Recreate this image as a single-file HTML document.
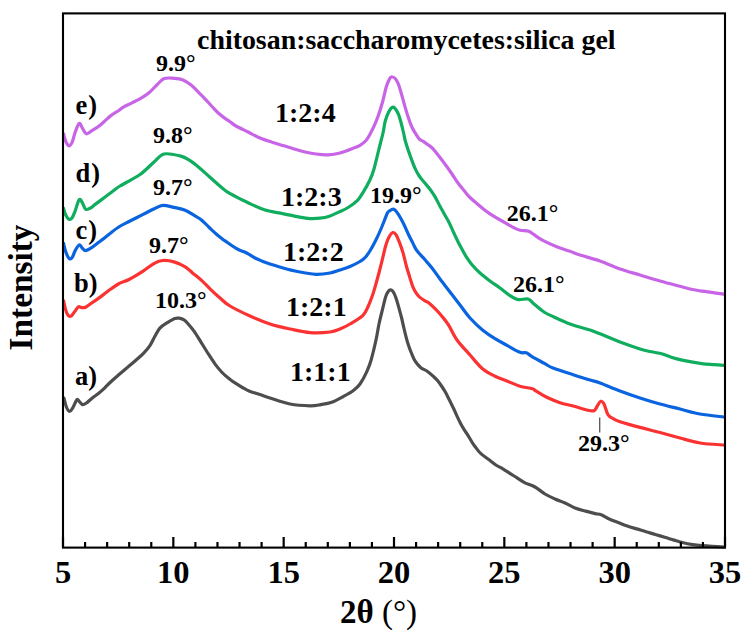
<!DOCTYPE html>
<html><head><meta charset="utf-8"><style>
html,body{margin:0;padding:0;background:#fff;}
svg{display:block;}
text{font-family:"Liberation Serif",serif;font-weight:bold;fill:#000;}
</style></head><body>
<svg width="750" height="641" viewBox="0 0 750 641">
<rect width="750" height="641" fill="#fff"/>
<g fill="none" stroke-width="3.2" stroke-linejoin="round" stroke-linecap="round">
<path stroke="#c864e6" d="M63.6 133.8 C63.9 135.0 64.7 139.0 65.6 141.0 C66.5 143.0 67.7 145.5 68.8 145.8 C69.9 146.1 70.9 144.9 72.0 142.6 C73.1 140.3 74.0 135.4 75.2 132.2 C76.4 129.0 78.0 124.1 79.2 123.4 C80.4 122.7 81.2 126.5 82.4 128.2 C83.6 129.9 84.8 133.4 86.4 133.8 C88.0 134.2 90.0 131.8 92.0 130.6 C94.0 129.4 96.3 128.2 98.4 126.6 C100.5 125.0 102.7 122.9 104.8 121.0 C106.9 119.1 108.8 117.2 111.2 115.4 C113.6 113.6 117.2 111.6 119.2 110.2 C121.2 108.8 121.3 108.3 123.4 107.1 C125.5 105.9 129.1 104.3 131.9 102.9 C134.7 101.5 137.5 100.3 140.3 98.7 C143.1 97.1 145.9 95.4 148.7 93.1 C151.5 90.8 154.5 87.1 157.1 84.7 C159.7 82.3 161.4 79.7 164.2 78.6 C167.0 77.5 171.0 78.1 174.0 78.3 C177.0 78.5 179.6 78.6 182.4 79.7 C185.2 80.8 188.0 82.5 190.8 84.7 C193.6 86.9 196.9 90.8 199.3 93.1 C201.7 95.4 202.9 96.6 205.0 98.8 C207.1 101.0 209.8 104.2 212.0 106.5 C214.2 108.8 216.0 111.0 218.0 112.8 C220.0 114.6 222.0 116.1 224.0 117.6 C226.0 119.1 228.0 120.4 230.0 121.8 C232.0 123.2 233.0 124.3 236.0 126.0 C239.0 127.7 244.0 130.0 248.0 132.0 C252.0 134.0 256.0 136.3 260.0 138.0 C264.0 139.7 268.0 140.9 272.0 142.2 C276.0 143.5 280.7 144.8 284.0 145.8 C287.3 146.8 288.7 147.2 292.0 148.2 C295.3 149.2 300.0 150.8 304.0 151.8 C308.0 152.8 312.0 153.5 316.0 154.0 C320.0 154.5 324.0 155.0 328.0 154.8 C332.0 154.6 336.0 154.0 340.0 153.0 C344.0 152.0 348.7 150.1 352.0 148.8 C355.3 147.5 357.7 146.8 360.0 145.4 C362.3 144.0 364.3 142.3 366.0 140.5 C367.7 138.7 368.4 137.3 370.0 134.3 C371.6 131.3 374.1 126.1 375.6 122.6 C377.1 119.0 378.0 116.6 379.2 113.0 C380.4 109.4 381.6 105.4 382.8 101.0 C384.0 96.6 385.2 90.4 386.4 86.6 C387.6 82.8 389.0 79.8 390.0 78.2 C391.0 76.6 391.5 76.9 392.4 77.0 C393.3 77.1 394.4 77.6 395.4 78.8 C396.4 80.0 397.4 81.7 398.4 84.2 C399.4 86.7 400.4 90.4 401.4 93.8 C402.4 97.2 403.3 100.8 404.4 104.6 C405.5 108.4 406.8 112.9 408.0 116.6 C409.2 120.2 410.2 123.4 411.6 126.5 C413.0 129.6 415.1 132.9 416.4 135.0 C417.7 137.1 418.3 138.1 419.5 139.2 C420.7 140.3 421.7 140.3 423.6 141.6 C425.5 142.9 429.1 145.4 430.8 146.8 C432.5 148.2 432.5 148.2 434.0 150.0 C435.5 151.8 438.0 154.9 440.0 157.5 C442.0 160.1 444.0 162.8 446.0 165.5 C448.0 168.2 450.0 171.1 452.0 174.0 C454.0 176.9 456.0 180.2 458.0 183.0 C460.0 185.8 462.0 188.1 464.0 190.5 C466.0 192.9 467.7 195.2 470.0 197.5 C472.3 199.8 475.7 202.5 478.0 204.5 C480.3 206.5 482.0 207.9 484.0 209.5 C486.0 211.1 487.0 211.9 490.0 213.8 C493.0 215.7 498.0 218.7 502.0 221.0 C506.0 223.3 511.0 226.3 514.0 227.8 C517.0 229.3 517.5 229.6 520.0 230.2 C522.5 230.8 526.4 230.6 528.7 231.3 C531.0 232.1 531.6 233.1 534.0 234.7 C536.4 236.3 539.5 238.7 543.3 240.7 C547.1 242.7 552.2 244.9 556.7 246.7 C561.2 248.5 566.1 249.9 570.0 251.3 C573.9 252.7 575.0 253.4 580.0 255.0 C585.0 256.6 593.3 258.7 600.0 261.0 C606.7 263.3 613.3 266.7 620.0 269.0 C626.7 271.3 633.3 273.0 640.0 275.0 C646.7 277.0 653.3 279.1 660.0 281.0 C666.7 282.9 675.0 285.0 680.0 286.3 C685.0 287.6 686.7 288.2 690.0 289.0 C693.3 289.8 696.7 290.3 700.0 290.8 C703.3 291.3 706.0 291.6 710.0 292.2 C714.0 292.8 721.7 293.9 724.0 294.2"/>
<path stroke="#10ad5e" d="M63.6 208.4 C63.9 209.5 64.7 213.0 65.6 214.8 C66.5 216.6 67.7 218.7 68.8 219.2 C69.9 219.7 70.9 219.4 72.0 218.0 C73.1 216.6 74.0 213.9 75.2 210.8 C76.4 207.7 78.0 200.9 79.2 199.6 C80.4 198.3 81.3 201.2 82.4 202.8 C83.5 204.4 84.3 208.3 85.6 209.2 C86.9 210.1 88.8 208.8 90.4 208.0 C92.0 207.2 93.3 205.8 95.2 204.4 C97.1 203.0 99.5 201.2 101.6 199.6 C103.7 198.0 105.9 196.4 108.0 194.8 C110.1 193.2 112.4 191.5 114.4 190.0 C116.4 188.5 115.7 188.6 120.0 186.0 C124.3 183.4 134.3 178.5 140.0 174.5 C145.7 170.5 150.0 165.4 154.0 162.0 C158.0 158.6 159.7 155.0 164.0 154.0 C168.3 153.0 175.8 154.9 180.0 155.9 C184.2 156.9 186.3 158.2 189.4 160.1 C192.5 162.0 195.6 164.6 198.7 167.2 C201.8 169.8 205.0 172.8 208.1 175.6 C211.2 178.4 214.4 181.3 217.5 184.0 C220.6 186.7 223.7 189.5 226.8 191.6 C229.9 193.7 232.8 195.0 236.2 196.8 C239.6 198.6 242.5 200.1 247.2 202.3 C251.9 204.5 258.6 208.0 264.3 209.8 C270.0 211.7 275.8 212.2 281.5 213.4 C287.2 214.6 293.9 216.0 298.6 216.9 C303.4 217.8 306.4 218.4 310.0 218.6 C313.6 218.8 316.8 218.6 320.0 218.2 C323.2 217.8 326.3 217.2 329.4 216.2 C332.5 215.2 335.6 213.5 338.7 212.1 C341.8 210.7 345.0 209.5 348.1 207.5 C351.2 205.5 354.9 202.9 357.5 200.3 C360.1 197.7 361.3 195.2 363.4 191.8 C365.5 188.4 368.1 183.8 369.9 180.0 C371.7 176.2 372.9 172.7 374.0 169.0 C375.1 165.3 375.8 161.9 376.8 157.8 C377.8 153.7 379.1 148.6 380.1 144.5 C381.1 140.4 382.1 137.0 383.0 133.0 C383.9 129.0 384.4 124.0 385.4 120.5 C386.4 117.0 387.7 114.0 388.8 111.8 C389.9 109.6 390.8 108.2 391.8 107.6 C392.8 107.0 393.7 107.1 394.8 108.2 C395.9 109.3 397.3 111.6 398.4 114.2 C399.5 116.8 400.5 120.7 401.4 124.0 C402.3 127.3 403.1 131.0 403.8 134.0 C404.5 137.0 404.5 138.3 405.6 142.0 C406.7 145.7 408.8 151.9 410.4 156.4 C412.0 160.9 413.9 165.9 415.4 169.2 C416.9 172.5 417.8 173.9 419.2 176.0 C420.6 178.1 422.2 179.8 424.0 182.0 C425.8 184.2 428.2 186.8 430.0 189.2 C431.8 191.6 433.2 193.7 434.8 196.4 C436.4 199.1 438.0 202.5 439.6 205.5 C441.2 208.5 442.8 211.3 444.4 214.2 C446.0 217.1 447.6 219.6 449.2 222.8 C450.8 226.0 452.2 229.5 454.0 233.3 C455.8 237.1 458.0 241.8 460.0 245.6 C462.0 249.4 464.0 253.2 466.0 256.4 C468.0 259.6 469.7 262.0 472.0 264.8 C474.3 267.6 477.0 270.3 480.0 273.0 C483.0 275.7 486.7 278.5 490.0 281.0 C493.3 283.5 496.7 285.6 500.0 288.0 C503.3 290.4 507.0 293.7 510.0 295.6 C513.0 297.5 515.0 299.0 518.0 299.6 C521.0 300.2 525.3 298.3 528.0 299.0 C530.7 299.7 531.3 301.8 534.0 304.0 C536.7 306.2 540.7 309.8 544.0 312.0 C547.3 314.2 549.7 315.0 554.0 317.0 C558.3 319.0 564.0 321.8 570.0 324.0 C576.0 326.2 585.0 328.4 590.0 330.0 C595.0 331.6 595.0 331.8 600.0 333.8 C605.0 335.8 613.3 339.5 620.0 342.0 C626.7 344.5 635.0 347.4 640.0 349.0 C645.0 350.6 646.5 350.8 650.0 351.5 C653.5 352.2 657.2 352.6 660.7 353.5 C664.2 354.4 667.8 356.1 671.3 357.2 C674.8 358.3 678.4 359.3 682.0 360.1 C685.6 360.9 689.2 361.6 692.7 362.2 C696.2 362.8 699.8 363.4 703.3 363.8 C706.8 364.2 710.5 364.4 714.0 364.7 C717.5 365.0 722.8 365.3 724.5 365.4"/>
<path stroke="#0a64e0" d="M63.6 243.4 C63.9 244.7 64.7 248.9 65.6 251.4 C66.5 253.9 67.7 257.1 68.8 258.2 C69.9 259.3 70.9 259.1 72.0 257.8 C73.1 256.5 74.0 252.7 75.2 250.6 C76.4 248.5 78.0 245.4 79.2 245.0 C80.4 244.6 81.3 247.3 82.4 248.2 C83.5 249.1 84.0 250.7 85.6 250.6 C87.2 250.5 89.9 248.7 92.0 247.4 C94.1 246.1 96.3 244.2 98.4 242.6 C100.5 241.0 102.9 239.3 104.8 237.8 C106.7 236.3 107.5 235.4 110.0 233.5 C112.5 231.6 116.3 228.5 119.5 226.5 C122.7 224.5 125.1 223.5 129.0 221.5 C132.9 219.5 138.9 216.5 143.1 214.4 C147.3 212.3 151.0 210.3 154.3 208.8 C157.6 207.3 159.5 205.5 162.8 205.3 C166.1 205.1 170.3 206.6 174.0 207.4 C177.7 208.2 181.7 208.8 185.2 210.2 C188.7 211.6 192.4 214.4 195.0 215.9 C197.6 217.4 198.7 217.8 200.5 219.2 C202.3 220.6 204.1 222.4 205.9 224.1 C207.7 225.8 209.6 227.9 211.4 229.6 C213.2 231.3 215.0 232.9 216.8 234.5 C218.6 236.1 220.5 237.5 222.3 238.9 C224.1 240.3 226.0 241.4 227.8 242.7 C229.6 244.0 231.4 245.3 233.2 246.5 C235.0 247.7 236.9 248.9 238.7 249.8 C240.5 250.7 242.3 251.0 244.1 251.8 C245.9 252.6 247.8 253.6 249.6 254.6 C251.4 255.6 253.3 257.0 255.1 258.0 C256.9 259.0 258.9 259.7 260.5 260.4 C262.1 261.1 261.5 261.0 265.0 262.2 C268.5 263.4 275.9 265.9 281.5 267.5 C287.1 269.1 292.9 270.7 298.6 271.8 C304.3 272.9 310.6 274.1 315.8 274.3 C321.0 274.5 326.0 273.7 330.0 273.0 C334.0 272.3 336.7 271.1 340.0 270.0 C343.3 268.9 346.7 267.9 350.0 266.5 C353.3 265.1 357.5 263.0 360.0 261.5 C362.5 260.0 363.2 259.6 365.0 257.7 C366.8 255.8 368.6 253.1 370.5 250.0 C372.4 246.9 374.5 242.8 376.4 239.0 C378.3 235.2 380.0 231.3 381.8 227.0 C383.6 222.7 386.0 216.0 387.3 213.3 C388.6 210.6 388.4 211.6 389.5 210.9 C390.6 210.2 392.4 208.8 393.9 209.3 C395.3 209.9 396.6 211.8 398.2 214.2 C399.8 216.6 401.9 220.5 403.7 224.0 C405.4 227.5 407.1 231.7 408.7 235.0 C410.3 238.3 411.9 241.2 413.1 243.6 C414.3 246.0 414.9 247.5 416.0 249.3 C417.1 251.1 418.5 252.6 420.0 254.3 C421.5 256.1 423.0 257.5 425.0 259.8 C427.0 262.1 429.5 264.8 432.0 268.0 C434.5 271.2 437.0 275.0 440.0 279.0 C443.0 283.0 446.7 287.7 450.0 292.0 C453.3 296.3 456.7 300.7 460.0 305.0 C463.3 309.3 466.2 313.8 470.0 318.0 C473.8 322.2 478.3 326.6 482.5 330.0 C486.7 333.4 490.8 336.1 495.0 338.7 C499.2 341.3 503.3 343.3 507.5 345.6 C511.7 347.9 516.9 351.1 520.0 352.3 C523.1 353.5 524.1 352.1 526.2 352.8 C528.3 353.6 529.3 355.0 532.4 356.8 C535.5 358.6 541.5 361.8 544.9 363.7 C548.3 365.6 548.3 366.2 553.0 368.0 C557.7 369.8 566.8 372.7 573.0 374.7 C579.2 376.7 585.5 378.6 590.0 380.0 C594.5 381.4 595.0 381.2 600.0 383.0 C605.0 384.8 613.3 388.5 620.0 391.0 C626.7 393.5 633.3 395.8 640.0 398.0 C646.7 400.2 653.3 402.2 660.0 404.0 C666.7 405.8 673.3 407.3 680.0 409.0 C686.7 410.7 692.7 412.7 700.0 414.0 C707.3 415.3 720.0 416.5 724.0 417.0"/>
<path stroke="#fb3232" d="M63.6 300.8 C63.9 302.3 64.9 307.2 65.6 309.6 C66.3 312.0 67.1 314.1 68.0 315.2 C68.9 316.3 70.1 316.5 71.2 316.0 C72.3 315.5 73.2 313.5 74.4 312.0 C75.6 310.5 77.2 307.5 78.4 306.8 C79.6 306.1 80.4 307.5 81.6 307.6 C82.8 307.7 83.9 308.0 85.6 307.2 C87.3 306.4 89.9 304.3 92.0 302.8 C94.1 301.3 96.3 299.9 98.4 298.4 C100.5 296.9 102.7 295.2 104.8 293.6 C106.9 292.0 108.8 290.5 111.2 288.8 C113.6 287.1 116.2 285.1 119.2 283.5 C122.2 281.9 125.0 281.6 129.0 279.5 C133.0 277.4 138.9 273.8 143.1 271.1 C147.3 268.4 151.0 265.1 154.3 263.3 C157.6 261.5 159.5 260.7 162.8 260.5 C166.1 260.3 170.3 260.8 174.0 261.9 C177.7 263.0 181.9 264.9 185.2 266.9 C188.5 268.9 190.9 271.6 193.7 273.9 C196.5 276.2 199.3 278.3 202.1 280.9 C204.9 283.5 207.5 286.4 210.5 289.3 C213.5 292.2 216.8 295.2 220.0 298.0 C223.2 300.8 225.0 303.0 230.0 306.0 C235.0 309.0 243.3 313.0 250.0 316.0 C256.7 319.0 263.3 321.8 270.0 324.0 C276.7 326.2 283.3 327.6 290.0 329.0 C296.7 330.4 303.3 332.1 310.0 332.6 C316.7 333.1 325.0 332.6 330.0 332.0 C335.0 331.4 336.7 330.3 340.0 329.0 C343.3 327.7 346.2 326.3 350.0 324.0 C353.8 321.7 359.9 318.3 363.0 315.3 C366.1 312.3 366.7 309.4 368.3 306.0 C369.9 302.6 371.3 298.7 372.6 295.0 C373.9 291.3 374.8 287.8 375.9 284.0 C377.0 280.2 378.1 276.2 379.2 272.0 C380.3 267.8 381.4 263.3 382.5 258.9 C383.6 254.5 384.6 249.3 385.7 245.7 C386.8 242.0 387.8 239.2 389.0 237.0 C390.2 234.8 391.6 233.0 392.8 232.6 C394.0 232.2 394.9 233.0 396.1 234.8 C397.3 236.6 398.7 240.5 399.9 243.6 C401.1 246.7 402.1 249.6 403.2 253.4 C404.3 257.2 405.4 262.5 406.5 266.5 C407.6 270.5 408.8 274.0 409.8 277.4 C410.9 280.8 411.8 284.1 412.8 286.6 C413.8 289.1 414.5 290.5 415.6 292.2 C416.7 293.9 417.7 295.5 419.3 296.9 C420.9 298.3 423.5 299.9 425.0 300.8 C426.5 301.7 426.6 301.2 428.3 302.5 C430.0 303.8 432.8 306.4 435.0 308.7 C437.2 310.9 439.5 313.3 441.7 316.0 C443.9 318.7 445.8 320.7 448.3 324.7 C450.9 328.7 453.4 334.9 457.0 340.0 C460.6 345.1 465.8 350.2 470.0 355.0 C474.2 359.8 478.3 365.2 482.5 368.7 C486.7 372.2 490.8 374.1 495.0 376.2 C499.2 378.3 503.3 379.5 507.5 381.2 C511.7 382.9 515.9 384.9 520.0 386.2 C524.1 387.4 529.7 387.9 532.4 388.7 C535.1 389.5 533.8 389.8 536.2 391.2 C538.6 392.6 542.7 395.4 546.7 397.3 C550.7 399.2 555.6 401.2 560.0 402.7 C564.4 404.1 568.8 404.8 573.3 406.0 C577.8 407.2 583.2 409.2 586.7 410.0 C590.2 410.8 592.2 411.4 594.0 410.7 C595.8 410.0 596.2 407.6 597.3 406.0 C598.4 404.4 599.6 401.6 600.7 401.3 C601.8 401.0 602.8 401.8 604.0 404.0 C605.2 406.2 606.5 412.2 608.0 414.7 C609.5 417.1 611.3 417.5 613.3 418.7 C615.3 419.9 615.5 420.2 620.0 421.7 C624.5 423.1 633.3 425.6 640.0 427.4 C646.7 429.2 653.3 430.7 660.0 432.5 C666.7 434.3 673.3 436.2 680.0 438.0 C686.7 439.8 692.7 441.8 700.0 443.0 C707.3 444.2 720.0 444.7 724.0 445.0"/>
<path stroke="#4d4d4d" d="M64.0 398.2 C64.4 399.7 65.5 404.8 66.4 407.0 C67.3 409.2 68.5 411.3 69.6 411.4 C70.7 411.5 71.6 409.7 72.8 407.8 C74.0 405.9 75.7 400.9 76.8 399.8 C77.9 398.7 78.3 400.6 79.2 401.4 C80.1 402.2 81.2 404.3 82.4 404.6 C83.6 404.9 84.8 404.1 86.4 403.0 C88.0 401.9 90.0 399.8 92.0 398.2 C94.0 396.6 96.3 395.1 98.4 393.4 C100.5 391.7 102.7 389.8 104.8 387.8 C106.9 385.8 108.9 383.7 111.2 381.5 C113.5 379.3 116.0 377.2 118.7 374.8 C121.4 372.4 124.6 369.9 127.5 367.4 C130.4 364.9 133.5 362.4 136.2 360.0 C138.9 357.6 141.4 355.5 143.7 353.1 C146.0 350.7 148.0 348.4 149.9 345.6 C151.8 342.8 153.2 339.1 154.9 336.2 C156.6 333.3 157.8 330.4 159.9 328.1 C162.0 325.8 164.9 324.2 167.4 322.6 C169.9 321.0 172.8 319.1 174.9 318.4 C177.0 317.7 178.5 318.1 180.0 318.3 C181.5 318.5 182.8 319.1 184.0 319.8 C185.2 320.5 185.3 320.7 187.0 322.6 C188.7 324.5 191.7 327.8 194.0 331.1 C196.3 334.4 198.8 338.6 201.1 342.3 C203.4 346.0 205.8 349.9 208.1 353.5 C210.4 357.1 212.8 360.9 215.1 364.1 C217.4 367.3 219.8 370.1 222.1 372.5 C224.4 374.9 226.8 376.9 229.2 378.8 C231.5 380.7 233.9 382.2 236.2 383.7 C238.5 385.2 240.9 386.7 243.2 388.0 C245.5 389.3 247.4 390.4 250.2 391.5 C253.0 392.6 256.7 393.5 260.0 394.6 C263.3 395.7 265.0 396.4 270.0 398.0 C275.0 399.6 283.3 402.7 290.0 404.0 C296.7 405.3 304.9 405.7 310.0 405.8 C315.1 405.9 317.3 405.2 320.9 404.6 C324.5 404.0 328.1 403.5 331.8 402.2 C335.5 400.9 339.2 398.8 342.8 396.8 C346.4 394.8 350.8 392.4 353.7 390.2 C356.6 388.0 358.0 386.8 360.2 383.7 C362.4 380.6 365.0 375.7 366.8 371.7 C368.6 367.7 369.7 365.0 371.2 359.7 C372.7 354.4 374.7 345.9 376.0 340.0 C377.3 334.1 377.9 329.3 379.0 324.0 C380.1 318.7 381.7 312.6 382.8 308.1 C383.9 303.6 384.7 299.7 385.6 296.9 C386.5 294.1 387.5 292.4 388.4 291.2 C389.2 290.0 389.9 289.7 390.7 289.8 C391.5 289.9 392.2 290.4 393.1 291.7 C394.0 293.0 395.0 295.2 395.9 297.8 C396.8 300.4 397.8 303.9 398.7 307.2 C399.6 310.5 400.6 313.9 401.5 317.5 C402.4 321.1 403.2 325.1 404.0 328.5 C404.8 331.9 405.6 335.1 406.3 337.8 C407.0 340.6 407.6 342.6 408.4 345.0 C409.2 347.4 410.1 349.9 411.2 352.5 C412.3 355.1 413.4 358.4 415.0 360.9 C416.6 363.4 418.6 365.8 420.6 367.5 C422.6 369.2 425.2 369.8 427.2 371.2 C429.2 372.6 431.1 374.3 432.8 375.9 C434.5 377.5 436.1 378.9 437.5 380.6 C438.9 382.3 440.1 384.0 441.5 386.0 C442.9 388.0 444.3 390.2 445.6 392.5 C446.9 394.8 448.1 397.5 449.4 400.0 C450.6 402.5 451.9 404.9 453.1 407.5 C454.4 410.1 455.6 413.2 456.9 415.9 C458.1 418.5 459.4 421.1 460.6 423.4 C461.8 425.7 463.1 427.9 464.3 429.9 C465.6 431.9 466.8 433.5 468.1 435.6 C469.4 437.7 470.9 440.4 472.2 442.5 C473.5 444.6 474.8 446.2 476.2 448.1 C477.6 450.0 478.9 451.8 480.9 453.7 C482.9 455.6 485.9 457.4 488.4 459.3 C490.9 461.2 493.5 463.4 495.9 465.0 C498.2 466.6 500.2 467.3 502.5 468.7 C504.8 470.1 507.4 471.8 509.9 473.4 C512.4 475.0 514.9 476.5 517.4 478.1 C519.9 479.7 522.1 481.3 525.0 482.8 C527.9 484.3 531.7 485.1 535.0 487.0 C538.3 488.9 541.7 492.0 545.0 494.0 C548.3 496.0 551.7 497.5 555.0 499.0 C558.3 500.5 561.7 501.5 565.0 503.0 C568.3 504.5 571.7 506.7 575.0 508.0 C578.3 509.3 581.7 510.1 585.0 511.0 C588.3 511.9 592.3 513.0 595.0 513.6 C597.7 514.2 598.9 513.9 601.2 514.8 C603.5 515.6 605.9 517.4 608.7 518.7 C611.5 520.0 614.9 521.2 618.0 522.4 C621.1 523.6 624.2 525.0 627.3 526.1 C630.4 527.2 633.6 528.0 636.7 528.9 C639.8 529.8 642.9 530.8 646.0 531.7 C649.1 532.6 652.2 533.6 655.3 534.5 C658.4 535.4 661.6 536.4 664.7 537.3 C667.8 538.2 670.9 539.2 674.0 540.1 C677.1 541.0 680.2 542.0 683.3 542.7 C686.4 543.5 689.6 544.1 692.7 544.6 C695.8 545.1 698.8 545.4 702.0 545.7 C705.2 546.0 708.3 546.2 712.0 546.4 C715.7 546.6 722.3 546.9 724.4 547.0"/>
</g>
<line x1="599.7" y1="417.5" x2="599.7" y2="432.5" stroke="#555" stroke-width="1.3"/>
<g stroke="#000" stroke-width="2.2"><line x1="63.00" y1="537" x2="63.00" y2="547" /><line x1="85.07" y1="542" x2="85.07" y2="547" /><line x1="107.13" y1="542" x2="107.13" y2="547" /><line x1="129.20" y1="542" x2="129.20" y2="547" /><line x1="151.27" y1="542" x2="151.27" y2="547" /><line x1="173.33" y1="537" x2="173.33" y2="547" /><line x1="195.40" y1="542" x2="195.40" y2="547" /><line x1="217.47" y1="542" x2="217.47" y2="547" /><line x1="239.53" y1="542" x2="239.53" y2="547" /><line x1="261.60" y1="542" x2="261.60" y2="547" /><line x1="283.67" y1="537" x2="283.67" y2="547" /><line x1="305.73" y1="542" x2="305.73" y2="547" /><line x1="327.80" y1="542" x2="327.80" y2="547" /><line x1="349.87" y1="542" x2="349.87" y2="547" /><line x1="371.93" y1="542" x2="371.93" y2="547" /><line x1="394.00" y1="537" x2="394.00" y2="547" /><line x1="416.07" y1="542" x2="416.07" y2="547" /><line x1="438.13" y1="542" x2="438.13" y2="547" /><line x1="460.20" y1="542" x2="460.20" y2="547" /><line x1="482.27" y1="542" x2="482.27" y2="547" /><line x1="504.33" y1="537" x2="504.33" y2="547" /><line x1="526.40" y1="542" x2="526.40" y2="547" /><line x1="548.47" y1="542" x2="548.47" y2="547" /><line x1="570.53" y1="542" x2="570.53" y2="547" /><line x1="592.60" y1="542" x2="592.60" y2="547" /><line x1="614.67" y1="537" x2="614.67" y2="547" /><line x1="636.73" y1="542" x2="636.73" y2="547" /><line x1="658.80" y1="542" x2="658.80" y2="547" /><line x1="680.87" y1="542" x2="680.87" y2="547" /><line x1="702.93" y1="542" x2="702.93" y2="547" /><line x1="725.00" y1="537" x2="725.00" y2="547" /></g>
<rect x="63" y="13.4" width="662" height="534.2" fill="none" stroke="#000" stroke-width="2.1"/>
<text x="197.0" y="49.2" font-size="27.9" text-anchor="start" >chitosan:saccharomycetes:silica gel</text>
<text x="156.0" y="70.7" font-size="24.0" text-anchor="start" >9.9°</text>
<text x="75.5" y="113.7" font-size="26.5" text-anchor="start" letter-spacing="1">e)</text>
<text x="275.0" y="122.1" font-size="28.0" text-anchor="start" >1:2:4</text>
<text x="153.0" y="143.0" font-size="24.0" text-anchor="start" >9.8°</text>
<text x="75.5" y="182.0" font-size="26.5" text-anchor="start" letter-spacing="1">d)</text>
<text x="281.0" y="206.4" font-size="28.0" text-anchor="start" >1:2:3</text>
<text x="370.0" y="203.0" font-size="24.0" text-anchor="start" >19.9°</text>
<text x="153.0" y="195.0" font-size="24.0" text-anchor="start" >9.7°</text>
<text x="75.5" y="239.0" font-size="26.5" text-anchor="start" letter-spacing="1">c)</text>
<text x="506.7" y="221.3" font-size="24.0" text-anchor="start" >26.1°</text>
<text x="149.0" y="253.0" font-size="24.0" text-anchor="start" >9.7°</text>
<text x="283.0" y="261.0" font-size="28.0" text-anchor="start" >1:2:2</text>
<text x="74.0" y="292.0" font-size="26.5" text-anchor="start" >b)</text>
<text x="512.9" y="292.4" font-size="24.0" text-anchor="start" >26.1°</text>
<text x="155.0" y="307.6" font-size="24.0" text-anchor="start" >10.3°</text>
<text x="286.0" y="315.5" font-size="28.0" text-anchor="start" >1:2:1</text>
<text x="75.0" y="385.0" font-size="26.5" text-anchor="start" >a)</text>
<text x="290.0" y="381.0" font-size="28.0" text-anchor="start" >1:1:1</text>
<text x="578.0" y="450.7" font-size="24.0" text-anchor="start" >29.3°</text>
<text x="63.0" y="583.0" font-size="32.5" text-anchor="middle" >5</text>
<text x="173.3" y="583.0" font-size="32.5" text-anchor="middle" >10</text>
<text x="283.7" y="583.0" font-size="32.5" text-anchor="middle" >15</text>
<text x="394.0" y="583.0" font-size="32.5" text-anchor="middle" >20</text>
<text x="504.3" y="583.0" font-size="32.5" text-anchor="middle" >25</text>
<text x="614.7" y="583.0" font-size="32.5" text-anchor="middle" >30</text>
<text x="725.0" y="583.0" font-size="32.5" text-anchor="middle" >35</text>
<text x="378.5" y="623.0" font-size="33.0" text-anchor="middle" >2θ <tspan font-weight="normal">(°)</tspan></text>
<text x="0.0" y="0.0" font-size="33.3" text-anchor="middle" transform="translate(31.5,287.5) rotate(-90)">Intensity</text>
</svg>
</body></html>
